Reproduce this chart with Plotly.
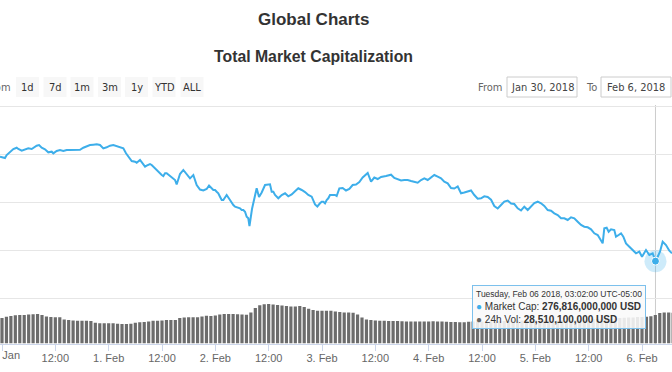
import pandas as pd
import plotly.graph_objects as go

# ---------------- DATA ----------------
# Total market capitalization (billion USD), per day
JAN30_TIMES = ["23:33"]
JAN30_VALUES = [494.4]
JAN31_TIMES = ["00:18","00:40","01:03","01:48","02:33","03:18","03:40","04:26","05:10","05:55","06:41","07:03",
               "07:48","08:20","08:56","09:40","10:25","11:11","11:33","12:18","13:03","13:48","14:33","15:18",
               "16:03","16:48","17:33","18:18","19:03","19:48","20:33","21:18","22:03","22:48","23:33"]
JAN31_VALUES = [492.3,491.6,497.9,504.8,510.4,513.1,510.4,506.8,509.8,511.8,510.4,513.1,
                517.3,518.7,513.1,509.8,503.5,504.8,501.4,506.2,508.3,506.2,508.3,508.3,
                508.9,509.8,508.9,513.1,516.6,518.7,519.4,520.2,518.7,511.8,513.9]
FEB1_TIMES = ["00:18","01:03","01:48","02:33","03:18","03:54","04:25","05:11","05:56","06:18","07:03","07:48",
              "08:11","08:33","09:18","09:41","10:03","10:48","11:33","11:56","12:18","12:41","13:03","13:48",
              "14:11","14:33","14:56","15:18","16:03","16:48","17:33","18:18","19:03","19:48","20:33","21:18",
              "22:03","22:35","23:33","23:56"]
FEB1_VALUES = [517.3,518.7,516.6,515.2,511.8,501.4,494.4,485.4,483.9,481.9,487.5,477.1,
               473.5,475.6,479.1,477.1,473.5,466.7,458.3,456.2,454.1,459.8,459.8,454.1,
               452.7,449.3,445.8,436.4,458.3,466.7,458.3,449.3,456.2,435.4,426.0,423.9,
               427.1,434.4,425.0,425.0]
FEB2_TIMES = ["00:18","00:40","01:03","01:26","01:48","02:11","02:33","03:18","03:41","04:03","04:26","04:48",
              "05:33","05:56","06:18","06:41","07:03","07:25","07:41","08:15","08:42","09:18","09:50","10:26",
              "11:11","11:55","12:18","12:41","13:03","13:26","14:10","14:56","15:41","16:25","17:11","17:56",
              "18:40","19:26","20:11","20:55","21:41","22:26","22:57","23:33","23:56"]
FEB2_VALUES = [421.4,418.1,411.0,404.1,404.1,411.0,414.6,404.1,397.3,393.7,390.2,389.0,
               386.9,383.3,383.3,379.8,369.4,366.0,350.0,385.4,404.1,428.5,410.4,419.8,
               435.4,437.1,436.8,421.4,421.4,414.6,407.7,414.6,418.1,411.9,415.6,422.3,
               428.5,425.0,420.8,414.6,411.0,394.8,390.6,397.3,400.6]
FEB3_TIMES = ["00:18","00:41","01:03","01:25","01:48","02:11","02:33","02:56","03:18","03:54","04:39","05:24",
              "06:09","06:54","07:39","08:24","09:09","09:54","10:17","11:02","11:46","12:32","13:17","14:24",
              "15:32","16:16","17:02","17:47","18:31","19:17","20:02","20:46","21:32","22:17","23:01","23:47"]
FEB3_VALUES = [400.6,397.3,404.1,407.7,414.6,414.6,416.0,414.6,412.5,428.5,429.2,423.9,
               427.1,435.4,436.4,441.6,451.0,456.2,460.4,442.3,451.0,447.9,452.1,454.1,
               456.9,450.0,447.9,444.8,445.8,445.8,443.7,442.3,440.2,445.8,449.3,445.8]
FEB4_TIMES = ["00:32","01:16","02:02","02:47","03:31","04:17","05:02","05:46","06:32","07:17","08:01","08:47",
              "09:32","10:16","11:02","11:47","12:31","13:17","14:02","14:46","15:32","16:17","17:01","17:47",
              "18:32","19:16","20:02","20:47","21:31","22:17","23:02","23:46"]
FEB4_VALUES = [451.4,456.2,452.7,449.3,442.3,438.9,429.2,428.1,432.3,418.1,419.8,422.3,
               423.9,414.6,406.9,407.7,411.9,410.4,404.8,391.7,386.4,393.7,401.0,403.1,
               396.9,395.8,386.9,382.3,390.2,383.3,391.7,397.9]
FEB5_TIMES = ["00:32","01:17","02:01","02:47","03:32","04:16","05:02","05:47","06:31","07:17","08:02","08:46",
              "09:32","10:17","11:01","11:47","12:32","13:16","14:02","14:47","15:09","15:31","16:03","16:30",
              "17:02","17:46","18:09","18:45","19:17","19:48","20:24","21:09","21:54","22:39","23:24"]
FEB5_VALUES = [400.6,397.3,391.7,383.3,381.9,376.4,372.9,366.0,366.0,362.5,368.1,366.0,
               358.9,352.1,348.5,347.3,343.1,334.8,331.2,317.3,313.9,345.2,346.4,338.1,
               343.1,341.7,327.7,331.2,334.8,327.7,313.9,306.9,300.0,293.1,296.5]
FEB6_TIMES = ["00:00","00:54","01:39","02:24","03:02","03:32","04:03","04:39","05:24","06:09","06:45"]
FEB6_VALUES = [286.0,300.0,289.6,293.1,276.816,286.0,296.5,317.3,310.4,298.5,293.1]

# 24h volume (billion USD), hourly bars starting 2018-01-30 23:00
VOL_START = "2018-01-30 23:00"
VOL_VALUES = [25.0,25.5,26.8,27.5,28.2,28.5,28.5,29.0,29.3,29.5,28.5,27.0,26.5,26.2,26.2,24.0,
              23.5,23.0,22.8,22.8,22.8,22.5,20.7,20.2,20.2,20.2,20.2,19.7,19.5,19.5,19.7,20.8,
              21.2,21.5,22.0,22.8,22.8,23.0,23.5,23.5,23.5,25.5,26.0,26.2,26.2,26.3,27.0,27.7,
              27.5,28.0,29.0,29.5,29.5,29.5,29.3,29.0,28.7,31.0,35.5,38.3,39.3,39.4,38.9,38.4,
              38.0,37.5,37.1,37.1,37.5,36.5,34.7,33.5,32.8,32.8,32.8,32.8,32.0,31.5,31.1,31.0,
              30.7,29.0,26.0,24.1,23.5,22.9,22.8,22.7,22.6,22.5,22.5,22.3,22.1,22.0,21.9,21.9,
              22.0,22.1,22.2,22.1,21.9,21.7,21.5,21.4,21.3,21.3,21.7,21.9,22.0,22.1,22.2,22.3,
              22.4,22.5,22.6,22.7,22.8,22.9,23.1,23.3,23.5,23.5,23.5,23.3,23.1,23.0,23.1,23.2,
              23.3,23.4,23.5,23.5,23.7,24.0,24.2,24.4,24.5,24.8,25.0,25.3,25.5,25.7,25.9,26.1,
              26.4,26.5,26.8,27.3,28.5,30.5,31.1,31.0,30.8]

TICK_TIMES = ["2018-01-31 00:00","2018-01-31 12:00","2018-02-01 00:00","2018-02-01 12:00",
              "2018-02-02 00:00","2018-02-02 12:00","2018-02-03 00:00","2018-02-03 12:00",
              "2018-02-04 00:00","2018-02-04 12:00","2018-02-05 00:00","2018-02-05 12:00",
              "2018-02-06 00:00"]
TICK_LABELS = ["31. Jan","12:00","1. Feb","12:00","2. Feb","12:00","3. Feb","12:00",
               "4. Feb","12:00","5. Feb","12:00","6. Feb"]
GRID_VALUES = [200, 300, 400, 500, 600]

RANGE_BUTTONS = ["1d", "7d", "1m", "3m", "1y", "YTD", "ALL"]
FROM_DATE = "Jan 30, 2018"
TO_DATE = "Feb 6, 2018"
HOVER_TIME = "2018-02-06 03:02"
TOOLTIP_HEADER = "Tuesday, Feb 06 2018, 03:02:00 UTC-05:00"
TOOLTIP_MCAP = "276,816,000,000 USD"
TOOLTIP_VOL = "28,510,100,000 USD"

# ---------------- BUILD ----------------
days = [("2018-01-30", JAN30_TIMES, JAN30_VALUES), ("2018-01-31", JAN31_TIMES, JAN31_VALUES),
        ("2018-02-01", FEB1_TIMES, FEB1_VALUES), ("2018-02-02", FEB2_TIMES, FEB2_VALUES),
        ("2018-02-03", FEB3_TIMES, FEB3_VALUES), ("2018-02-04", FEB4_TIMES, FEB4_VALUES),
        ("2018-02-05", FEB5_TIMES, FEB5_VALUES), ("2018-02-06", FEB6_TIMES, FEB6_VALUES)]
mcap_x, mcap_y = [], []
for d, ts, vs in days:
    mcap_x += [pd.Timestamp(f"{d} {t}") for t in ts]
    mcap_y += vs
vol_x = pd.date_range(VOL_START, periods=len(VOL_VALUES), freq="h")

hover_ts = pd.Timestamp(HOVER_TIME)
hover_val = mcap_y[mcap_x.index(hover_ts)]

W, H = 672, 372
def px(x):
    return x / W
def py(y):
    return 1 - y / H

LINE = "#3daeea"
SANS = "Liberation Sans, Arial"
BTN_FONT = "Liberation Sans Narrow, DejaVu Sans Condensed, Liberation Sans"

fig = go.Figure()
fig.add_trace(go.Bar(x=vol_x, y=VOL_VALUES, yaxis="y2", marker=dict(color="#6c6c6c", line=dict(width=0)),
                     hoverinfo="skip"))
fig.add_trace(go.Scatter(x=mcap_x, y=mcap_y, mode="lines", line=dict(color=LINE, width=2),
                         hoverinfo="skip"))
fig.add_trace(go.Scatter(x=[hover_ts], y=[hover_val], mode="markers",
                         marker=dict(size=22, color="rgba(61,174,234,0.25)", line=dict(width=0)),
                         hoverinfo="skip"))
fig.add_trace(go.Scatter(x=[hover_ts], y=[hover_val], mode="markers",
                         marker=dict(size=8, color=LINE, line=dict(width=1, color="#ffffff")),
                         hoverinfo="skip"))

shapes = []
annotations = []

def label(text, x, y, size, color, family=SANS, xanchor="center"):
    annotations.append(dict(text=text, x=px(x), y=py(y), xref="paper", yref="paper",
                            xanchor=xanchor, yanchor="middle", showarrow=False,
                            font=dict(family=family, size=size, color=color)))

# crosshair
shapes.append(dict(type="line", xref="x", yref="paper", x0=hover_ts, x1=hover_ts,
                   y0=py(343.5), y1=py(105), line=dict(color="#cccccc", width=1), layer="below"))

# first tick label sits across the left edge (the axis hides it), so draw it as text at its tick
annotations.append(dict(text=TICK_LABELS[0], x=pd.Timestamp(TICK_TIMES[0]), y=py(355), xref="x",
                        yref="paper", xanchor="center", yanchor="middle", showarrow=False,
                        font=dict(family=SANS, size=11, color="#666666")))

# titles
label("<b>Global Charts</b>", 313, 20, 17, "#333333")
label("<b>Total Market Capitalization</b>", 313, 57, 15.8, "#333333")

# range selector
label("Zoom", 13, 87, 11, "#666666", BTN_FONT, xanchor="right")
btn_centers = [27.5, 55, 82, 109.5, 136.5, 164, 192]
for text, c in zip(RANGE_BUTTONS, btn_centers):
    shapes.append(dict(type="rect", xref="paper", yref="paper", x0=px(c - 11.5), x1=px(c + 11.5),
                       y0=py(97), y1=py(77), fillcolor="#f7f7f7", line=dict(width=0), layer="below"))
    label(text, c, 87, 11, "#333333", BTN_FONT)
# date inputs
label("From", 490, 87, 11, "#666666", BTN_FONT)
label("To", 591, 87, 11, "#666666", BTN_FONT)
for text, x0, x1 in [(FROM_DATE, 507, 577), (TO_DATE, 601, 671)]:
    shapes.append(dict(type="rect", xref="paper", yref="paper", x0=px(x0), x1=px(x1), y0=py(97), y1=py(77),
                       fillcolor="#ffffff", line=dict(width=1, color="#cccccc"), layer="below"))
    label(text, (x0 + x1) / 2, 87, 11, "#444444", BTN_FONT)

# tooltip
tip = (f'<span style="font-size:8.5px">{TOOLTIP_HEADER}</span><br>'
       f'<span style="color:{LINE}">\u25cf</span> Market Cap: <b>{TOOLTIP_MCAP}</b><br>'
       f'<span style="color:#666666">\u25cf</span> 24h Vol: <b>{TOOLTIP_VOL}</b>')
annotations.append(dict(text=tip, x=px(472), y=py(285), xref="paper", yref="paper", xanchor="left",
                        yanchor="top", align="left", showarrow=False, bordercolor="#7cc0ec", borderwidth=1,
                        borderpad=3, bgcolor="rgba(249,249,249,0.88)",
                        font=dict(family=SANS, size=10, color="#333333")))

fig.update_layout(
    width=W, height=H, autosize=False,
    margin=dict(l=0, r=0, t=0, b=0),
    paper_bgcolor="#ffffff", plot_bgcolor="#ffffff",
    showlegend=False, bargap=0.28,
    xaxis=dict(domain=[0, 1], anchor="y2", type="date",
               range=[pd.Timestamp("2018-01-30 23:33"), pd.Timestamp("2018-02-06 06:45")],
               showgrid=False, zeroline=False, showline=True, linecolor="#ccd6eb", linewidth=1,
               ticks="outside", ticklen=6, tickcolor="#ccd6eb", tickwidth=1,
               ticklabelstandoff=-2,
               tickmode="array", tickvals=[pd.Timestamp(t) for t in TICK_TIMES], ticktext=TICK_LABELS,
               tickfont=dict(family=SANS, size=11, color="#666666")),
    yaxis=dict(domain=[py(300), py(104)], range=[200 - 2 / 0.48, 600 + 2 / 0.48], anchor="x",
               tickmode="array", tickvals=GRID_VALUES, showticklabels=False, ticks="",
               showgrid=True, gridcolor="#e6e6e6", gridwidth=1, zeroline=False, showline=False),
    yaxis2=dict(domain=[py(343.5), py(300)], range=[0, 43.5], anchor="x",
                showgrid=False, showticklabels=False, ticks="", zeroline=False, showline=False),
    shapes=shapes, annotations=annotations,
)

fig.write_html("out.html", include_plotlyjs=True, config={"displayModeBar": False},
               post_script="document.body.style.margin='0px';document.body.style.overflow='hidden';")
